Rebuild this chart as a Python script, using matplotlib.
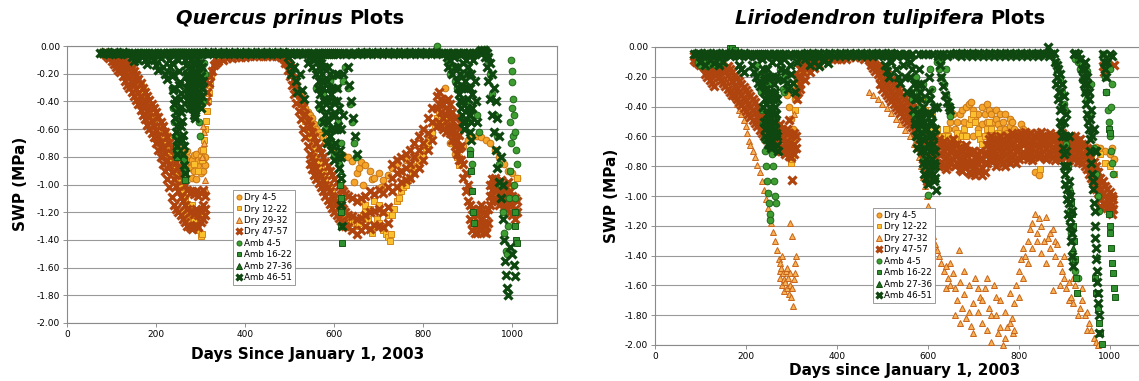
import matplotlib
matplotlib.use("Agg")
import matplotlib.pyplot as plt

# ---------------- DATA (day since Jan 1 2003, SWP in MPa) ----------------
# each tuple: (day, reading, reading, ...)
series_left = ["Dry 4-5", "Dry 12-22", "Dry 29-32", "Dry 47-57",
               "Amb 4-5", "Amb 16-22", "Amb 27-36", "Amb 46-51"]
series_right = ["Dry 4-5", "Dry 12-22", "Dry 27-32", "Dry 47-57",
                "Amb 4-5", "Amb 16-22", "Amb 27-36", "Amb 46-51"]
x_ticks = [0, 200, 400, 600, 800, 1000]
y_ticks = [0.0, -0.2, -0.4, -0.6, -0.8, -1.0, -1.2, -1.4, -1.6, -1.8, -2.0]

# ---- Quercus prinus ----
qp_dry45 = [(140, -.18), (150, -.22), (160, -.28), (170, -.34), (180, -.40), (190, -.47), (200, -.52),
            (210, -.57), (220, -.62), (230, -.67), (240, -.72), (250, -.76), (255, -.80), (260, -.82, -.74),
            (265, -.85, -.78), (270, -.80, -.76), (275, -.88, -.83), (280, -.82, -.95), (285, -.90, -.79),
            (290, -.78, -.96), (295, -.86, -.82), (300, -.92, -.75), (305, -.84, -.90), (310, -.80, -.86),
            (525, -.36), (530, -.40), (535, -.45), (540, -.48), (545, -.50), (550, -.52), (555, -.56),
            (560, -.60), (565, -.62), (570, -.64), (575, -.66), (580, -.70), (590, -.72), (600, -.75),
            (610, -.77), (620, -.79), (630, -.80), (640, -.83), (645, -.98), (650, -.92), (655, -.88),
            (660, -.84), (665, -1.0), (670, -.86), (680, -.90), (685, -.96), (690, -.95), (700, -.92),
            (705, -1.02), (710, -.97), (720, -.93), (730, -.88), (740, -.85), (750, -.90), (760, -.82),
            (770, -.87), (780, -.80), (790, -.78), (800, -.72), (810, -.68), (820, -.62), (830, -.55),
            (840, -.50), (848, -.30), (850, -.60), (860, -.70), (870, -.78), (880, -.80), (890, -.72),
            (900, -.68), (910, -.66), (920, -.65), (930, -.66), (940, -.68), (950, -.70), (960, -.75),
            (970, -.80), (980, -.85), (990, -.90), (1000, -.92), (1010, -.95)]
qp_dry1222 = [(145, -.15), (150, -.18), (155, -.20), (160, -.24), (165, -.28), (170, -.32), (175, -.36),
              (180, -.40), (185, -.45), (190, -.49), (195, -.54), (200, -.58), (205, -.62), (210, -.66),
              (215, -.70), (220, -.73), (225, -.76), (230, -.80), (235, -.84), (240, -.88), (245, -.92),
              (250, -.97), (255, -1.02), (260, -1.06, -1.2), (265, -1.10), (270, -1.14, -1.25), (275, -1.18),
              (280, -1.22, -1.15), (285, -1.26, -.85), (290, -1.30, -1.2), (295, -1.33, -.90),
              (300, -1.37, -1.22, -.80), (302, -1.36), (304, -.82), (306, -.75), (308, -.68), (310, -.60),
              (312, -.54), (314, -.47), (316, -.40), (318, -.34), (320, -.28), (323, -.22), (326, -.18),
              (330, -.14), (335, -.12), (340, -.10), (350, -.09), (360, -.08), (370, -.08), (380, -.07),
              (510, -.25), (515, -.30), (520, -.36), (525, -.42), (530, -.48), (535, -.54), (540, -.60),
              (545, -.65), (550, -.70), (555, -.75), (560, -.80), (565, -.84), (570, -.88), (575, -.92),
              (580, -.96), (585, -1.0), (590, -1.03), (595, -1.06), (600, -1.09), (605, -1.12), (610, -1.15),
              (615, -1.18), (620, -1.20), (625, -1.22), (630, -1.24), (635, -1.25), (640, -1.27),
              (645, -1.28), (650, -1.30), (655, -1.28), (660, -1.25, -1.12), (665, -1.22), (670, -1.20, -1.15),
              (675, -1.25), (680, -1.32, -1.18), (685, -1.35), (690, -1.30, -1.12), (695, -1.25),
              (700, -1.28, -1.15), (705, -1.30), (710, -1.33, -1.20), (715, -1.36), (720, -1.38, -1.22),
              (725, -1.41), (728, -1.36), (730, -1.22), (735, -1.18), (740, -1.12), (745, -1.10),
              (750, -1.05), (755, -1.02), (760, -1.0), (765, -.97), (770, -.95), (775, -.92), (780, -.90),
              (785, -.87), (790, -.85), (795, -.82), (800, -.78), (805, -.74), (810, -.70), (815, -.66),
              (820, -.62), (825, -.57), (830, -.52), (835, -.48), (840, -.50), (845, -.54), (850, -.56),
              (855, -.52), (860, -.58), (865, -.66), (870, -.72), (875, -.80), (880, -.86),
              (995, -.90), (1000, -1.0), (1005, -1.10), (1010, -.95)]
qp_dry2932 = [(302, -.80), (305, -.58), (307, -.62), (308, -.70), (310, -.97), (311, -1.04)]
qp_dry4757 = [(80, -.05), (85, -.05, -.06), (90, -.05, -.07), (95, -.06, -.09), (100, -.06, -.08, -.11),
              (105, -.07, -.10, -.13), (110, -.08, -.12, -.15), (115, -.09, -.13, -.17), (120, -.10, -.15, -.19),
              (125, -.11, -.17, -.22), (130, -.12, -.19, -.25), (135, -.13, -.21, -.28), (140, -.14, -.23, -.30),
              (145, -.16, -.26, -.33), (150, -.18, -.28, -.36), (155, -.21, -.31, -.39), (160, -.24, -.34, -.42),
              (165, -.27, -.37, -.46), (170, -.30, -.41, -.50), (175, -.33, -.44, -.53), (180, -.36, -.47, -.57),
              (185, -.39, -.51, -.60), (190, -.42, -.54, -.63), (195, -.45, -.58, -.66), (200, -.48, -.61, -.70),
              (205, -.51, -.65, -.75), (210, -.55, -.69, -.80), (215, -.58, -.73, -.85), (220, -.62, -.77, -.90),
              (225, -.66, -.82, -.96), (230, -.70, -.86, -1.02), (235, -.74, -.91, -1.09), (240, -.79, -.96, -1.15),
              (245, -.84, -1.01, -1.18), (250, -.88, -1.05, -1.20), (255, -.93, -1.09, -1.22),
              (260, -.97, -1.12, -1.25), (265, -1.0, -1.15, -1.27), (270, -1.04, -1.18, -1.30),
              (275, -1.06, -1.20, -1.31), (280, -1.05, -1.19, -1.32), (285, -1.07, -1.21, -1.30),
              (290, -1.05, -1.18, -1.29), (295, -1.08, -1.22, -1.31), (300, -1.06, -1.19, -1.27),
              (305, -1.04, -1.15, -1.25), (310, -1.08, -1.18, -1.22),
              (312, -.40), (315, -.33), (318, -.27), (321, -.22), (325, -.18), (330, -.14), (335, -.12),
              (340, -.11), (350, -.10), (360, -.09), (370, -.09), (380, -.08), (390, -.08), (400, -.08),
              (410, -.07), (420, -.07), (430, -.07), (440, -.07), (450, -.07), (460, -.07), (470, -.07),
              (480, -.08), (485, -.09), (490, -.10, -.12), (495, -.12, -.17), (500, -.15, -.22),
              (505, -.19, -.28), (510, -.24, -.35), (515, -.29, -.41), (520, -.34, -.47), (525, -.39, -.53),
              (530, -.44, -.60), (535, -.49, -.66), (540, -.54, -.72), (545, -.58, -.78, -.85),
              (550, -.62, -.80, -.89), (555, -.66, -.84, -.93), (560, -.70, -.88, -.96), (565, -.73, -.91, -.99),
              (570, -.77, -.94, -1.02), (575, -.80, -.97, -1.05), (580, -.84, -1.0, -1.08),
              (585, -.87, -1.02, -1.11), (590, -.90, -1.05, -1.14), (595, -.93, -1.08, -1.17),
              (600, -.96, -1.10, -1.20), (605, -.98, -1.12, -1.22), (610, -1.01, -1.14, -1.24),
              (615, -1.03, -1.16, -1.26), (620, -1.05, -1.18, -1.28), (625, -1.07, -1.20, -1.30),
              (630, -1.08, -1.22, -1.31), (640, -1.10, -1.23, -1.33), (650, -1.12, -1.25, -1.36),
              (660, -1.10, -1.24, -1.33), (670, -1.08, -1.22, -1.30), (680, -1.05, -1.20, -1.32),
              (690, -1.07, -1.19, -1.29), (700, -1.04, -1.18, -1.30), (710, -1.06, -1.20, -1.31),
              (720, -1.02, -1.16, -1.28), (730, -.85, -.95, -1.05), (740, -.82, -.92, -1.02),
              (750, -.80, -.90, -.98), (760, -.78, -.88, -.97), (770, -.75, -.85, -.95), (780, -.70, -.80, -.92),
              (790, -.65, -.75, -.88), (800, -.60, -.70, -.82), (810, -.52, -.63, -.75), (820, -.45, -.55, -.68),
              (830, -.36, -.45, -.58), (835, -.33, -.42, -.55), (840, -.38, -.48, -.58), (845, -.42, -.52, -.60),
              (850, -.40, -.50, -.62), (855, -.38, -.46, -.58), (860, -.42, -.52, -.63), (865, -.48, -.58, -.68),
              (870, -.52, -.63, -.72), (875, -.58, -.68, -.78), (880, -.64, -.74, -.82), (885, -.72, -.82),
              (890, -.85, -.95), (895, -.92, -1.05), (900, -1.0, -1.12), (905, -1.15, -1.25),
              (910, -1.18, -1.28, -1.33), (915, -1.20, -1.30, -1.35), (920, -1.22, -1.30, -1.35),
              (925, -1.18, -1.27, -1.33), (930, -1.15, -1.25, -1.32), (935, -1.20, -1.28, -1.34),
              (940, -1.22, -1.30, -1.35), (945, -1.18, -1.28), (950, -1.0, -1.08, -1.15),
              (955, -.96, -1.04, -1.12), (960, -.95, -1.02, -1.10), (965, -.98, -1.05, -1.12),
              (970, -1.0, -1.07, -1.15), (975, -.97, -1.04, -1.12), (980, -1.0, -1.08, -1.16),
              (985, -1.02, -1.10, -1.18), (990, -.98, -1.06, -1.14), (995, -1.05, -1.12, -1.20),
              (1000, -1.08, -1.15, -1.22), (1005, -1.10, -1.18, -1.25), (1010, -1.12, -1.20)]
qp_amb45 = [(236, -.30), (238, -.45), (240, -.55), (242, -.65), (244, -.75), (246, -.80),
            (270, -.30), (275, -.35), (280, -.20), (283, -.40), (285, -.15), (286, -.50), (290, -.30),
            (293, -.45), (295, -.10), (296, -.55), (298, -.65), (300, -.20), (302, -.15), (304, -.30),
            (306, -.40), (308, -.12), (310, -.20),
            (560, -.30), (565, -.45), (570, -.55), (575, -.35), (580, -.60), (585, -.40), (590, -.70, -.25),
            (595, -.50), (600, -.78, -.22), (605, -.30), (608, -.55), (611, -.85), (615, -.70), (620, -.25),
            (625, -.15), (630, -.30), (635, -.42), (640, -.55), (645, -.70), (648, -.80), (830, 0.0),
            (855, -.12), (860, -.20), (865, -.15), (870, -.25), (875, -.30), (880, -.28), (885, -.22),
            (890, -.30), (895, -.40), (900, -.55), (905, -.75), (910, -.85), (920, -.50), (925, -.62),
            (930, -.03), (940, -.02), (945, -.10), (950, -.20), (955, -.35), (960, -.50), (965, -.65),
            (970, -.85), (975, -1.0), (978, -1.20), (982, -1.35), (985, -1.48), (988, -1.50), (990, -1.30),
            (992, -1.10), (994, -.55), (995, -.90), (996, -.70), (997, -.10), (998, -.45), (999, -.18),
            (1000, -.26), (1001, -.65), (1002, -.38), (1003, -1.0), (1004, -.50), (1005, -1.10),
            (1006, -.62), (1007, -1.20), (1008, -.75), (1010, -.85)]
qp_amb1622 = [(244, -.72), (246, -.80), (262, -.82), (264, -.90), (265, -.97), (613, -1.0), (614, -1.10),
              (615, -1.20), (616, -1.30), (617, -1.42), (905, -.78), (907, -.90), (909, -1.05), (911, -1.20),
              (913, -1.28), (1005, -1.30), (1006, -1.20), (1008, -1.40), (1010, -1.42)]
qp_amb2736 = [(100, -.05), (200, -.06), (400, -.05), (615, -.90), (700, -.05)]
qp_amb4651 = [(75, -.05), (80, -.05), (85, -.04), (90, -.05), (95, -.06), (100, -.05), (105, -.04),
              (110, -.05), (115, -.06), (120, -.05), (125, -.04), (130, -.05), (135, -.06), (140, -.05),
              (145, -.05, -.08), (150, -.05, -.11), (155, -.06), (160, -.05, -.10), (165, -.05),
              (170, -.05, -.07), (175, -.05, -.10), (180, -.06, -.13), (185, -.05), (190, -.05, -.08),
              (195, -.05, -.10), (200, -.06, -.14), (205, -.05, -.17), (208, -.06), (212, -.05, -.09),
              (216, -.05, -.15), (220, -.06, -.20), (224, -.05, -.24), (228, -.05, -.10), (232, -.05, -.15),
              (236, -.05, -.12, -.22), (238, -.06, -.20, -.32), (240, -.05, -.30, -.42), (242, -.06, -.38, -.52),
              (244, -.05, -.48, -.62), (246, -.05, -.58, -.72), (247, -.68, -.78), (249, -.05, -.10),
              (251, -.05, -.18, -.28), (253, -.06, -.26, -.38), (255, -.05, -.34, -.48), (257, -.05, -.44, -.58),
              (259, -.06, -.54, -.68), (261, -.05, -.64, -.78), (263, -.72, -.86), (264, -.92),
              (266, -.05, -.10), (268, -.05, -.14, -.22), (269, -.35), (270, -.06, -.20, -.30),
              (271, -.40), (272, -.05, -.26, -.38), (273, -.15), (274, -.05, -.34, -.45), (275, -.25),
              (276, -.06, -.42), (277, -.30), (278, -.05, -.10), (279, -.38), (280, -.05, -.16, -.25),
              (281, -.45), (282, -.06, -.22, -.33), (283, -.12), (284, -.05, -.30, -.42), (285, -.20),
              (286, -.05, -.38, -.50), (287, -.25), (288, -.06, -.46, -.52), (289, -.30), (290, -.05, -.12),
              (291, -.35), (292, -.05, -.20), (293, -.42), (294, -.06, -.28), (295, -.15), (296, -.05, -.36),
              (297, -.25), (298, -.05, -.12), (299, -.40), (300, -.06, -.22), (301, -.45), (302, -.05, -.30),
              (303, -.15), (304, -.06, -.36), (305, -.25), (306, -.05), (310, -.05), (316, -.04),
              (322, -.05), (328, -.06), (334, -.05), (340, -.04), (346, -.05), (352, -.06), (358, -.05),
              (364, -.04), (370, -.05), (376, -.06), (382, -.05), (388, -.04), (394, -.05), (400, -.06),
              (406, -.05), (412, -.04), (418, -.05), (424, -.06), (430, -.05), (436, -.04), (442, -.05),
              (448, -.06), (454, -.05), (460, -.04), (466, -.05), (472, -.06), (478, -.05), (484, -.04),
              (490, -.05), (495, -.05, -.08), (500, -.05, -.14), (503, -.05, -.20), (506, -.06),
              (510, -.05, -.15), (514, -.05, -.25), (517, -.06, -.33), (520, -.05), (524, -.05, -.20),
              (528, -.06, -.32), (531, -.05, -.38), (535, -.05), (540, -.05, -.12), (545, -.06, -.08),
              (550, -.05, -.15), (555, -.05, -.10), (560, -.06, -.20), (563, -.05, -.30), (565, -.15, -.25),
              (566, -.05, -.42), (568, -.10, -.35), (570, -.06, -.12), (572, -.20, -.45), (573, -.05, -.25),
              (575, -.30, -.55), (576, -.05, -.38), (578, -.15, -.40), (579, -.06, -.50), (582, -.05, -.62),
              (583, -.25, -.70), (585, -.05, -.15), (587, -.40, -.55), (588, -.06, -.30), (590, -.20, -.65),
              (591, -.05, -.45), (593, -.35, -.75), (594, -.05, -.60), (596, -.50, -.30), (597, -.06, -.72),
              (599, -.40, -.60), (600, -.05, -.82), (602, -.70, -.50), (603, -.05, -.20), (605, -.30, -.60),
              (606, -.06, -.40), (608, -.80, -.20), (609, -.05, -.58), (611, -.45, -.88), (612, -.05, -.75),
              (614, -.95), (615, -.60, -.80), (616, -1.15), (618, -1.30), (619, -.50, -.20), (622, -.05),
              (626, -.06), (630, -.05, -.15), (634, -.05, -.28), (638, -.06, -.40), (642, -.05, -.52),
              (646, -.05, -.65), (650, -.06, -.78),
              (655, -.05), (661, -.04), (667, -.05), (673, -.06), (679, -.05), (685, -.04), (691, -.05),
              (697, -.06), (703, -.05), (709, -.04), (715, -.05), (721, -.06), (727, -.05), (733, -.04),
              (739, -.05), (745, -.06), (751, -.05), (757, -.04), (763, -.05), (769, -.06), (775, -.05),
              (781, -.04), (787, -.05), (793, -.06), (799, -.05), (805, -.04), (811, -.05), (817, -.06),
              (823, -.05), (829, -.04), (835, -.05), (841, -.06), (847, -.05), (852, -.05, -.08),
              (856, -.05, -.15), (860, -.06, -.10), (864, -.05, -.20), (868, -.05, -.08), (872, -.06, -.15),
              (876, -.05, -.25), (878, -.15, -.30), (880, -.05, -.35), (882, -.20, -.40), (884, -.06, -.45),
              (886, -.30, -.50), (888, -.05, -.55), (890, -.12, -.40), (892, -.05, -.60), (894, -.25, -.55),
              (896, -.06, -.10), (898, -.20, -.45), (899, -.05, -.30), (901, -.15, -.38), (902, -.05, -.50),
              (904, -.30, -.50), (905, -.62), (907, -.20, -.55), (908, -.68), (910, -.35, -.45),
              (912, -.05, -.10), (915, -.06, -.25), (918, -.05, -.40), (921, -.55), (925, -.04),
              (930, -.03), (935, -.03), (938, -.04, -.08), (942, -.05, -.15), (946, -.08, -.25),
              (950, -.12, -.38), (954, -.20, -.50), (958, -.30, -.62), (962, -.40, -.75), (966, -.52, -.88),
              (970, -.65, -.98), (974, -.80, -1.10), (978, -1.0, -1.25), (981, -1.40), (984, -1.55),
              (986, -1.65), (988, -1.75), (990, -1.80), (995, -1.45), (1000, -1.50), (1004, -1.58),
              (1006, -1.66)]

# ---- Liriodendron tulipifera ----
lt_dry45 = [(265, -.55), (270, -.60), (290, -.32), (295, -.40), (300, -.48), (303, -.55), (305, -.60),
            (307, -.35), (310, -.28), (312, -.22), (315, -.18),
            (560, -.30), (570, -.35), (580, -.40), (590, -.45), (600, -.50),
            (640, -.60), (645, -.55), (650, -.50), (655, -.45), (660, -.55), (665, -.50), (670, -.45),
            (675, -.42), (680, -.50), (685, -.40), (690, -.38), (695, -.37), (700, -.42, -.60), (705, -.48),
            (710, -.55, -.45), (715, -.60), (720, -.52, -.40), (725, -.45), (730, -.50, -.38), (735, -.42),
            (740, -.45, -.58), (745, -.50), (750, -.48, -.60, -.42), (755, -.52), (760, -.55, -.62, -.45),
            (765, -.50), (770, -.55, -.45), (775, -.58), (780, -.53, -.48), (785, -.50), (790, -.55, -.62),
            (795, -.60), (800, -.58, -.65), (805, -.52), (810, -.55), (815, -.60), (820, -.62), (825, -.58),
            (830, -.60), (835, -.84), (840, -.62), (845, -.86), (850, -.64), (855, -.60), (860, -.62),
            (870, -.66), (880, -.62), (890, -.65), (900, -.63), (910, -.66), (920, -.68), (930, -.66),
            (940, -.65), (950, -.68), (960, -.70), (970, -.67), (980, -.68), (990, -.70), (1000, -.72),
            (1005, -.68), (1010, -.75)]
lt_dry1222 = [(250, -.45), (260, -.50), (270, -.55), (280, -.60), (290, -.62), (295, -.65), (298, -.72),
              (300, -.78), (302, -.75), (304, -.62), (306, -.58), (308, -.42), (310, -.35), (312, -.32),
              (315, -.25), (320, -.20), (325, -.16), (330, -.14), (335, -.12), (340, -.14), (345, -.12),
              (590, -.35), (595, -.42), (600, -.50), (605, -.55), (610, -.45), (620, -.55), (625, -.60),
              (630, -.65), (635, -.60), (640, -.55), (645, -.60), (650, -.65), (655, -.70), (660, -.62),
              (665, -.58), (670, -.65), (675, -.60), (680, -.55), (685, -.60), (690, -.52), (695, -.48),
              (700, -.45), (705, -.50), (710, -.58), (715, -.62), (720, -.65), (725, -.60), (730, -.55),
              (735, -.50), (740, -.55), (745, -.60), (750, -.62), (755, -.58), (760, -.60), (765, -.65),
              (770, -.62), (775, -.60), (780, -.63), (785, -.65), (790, -.60), (795, -.62), (800, -.66),
              (805, -.63), (810, -.60), (815, -.64), (820, -.68), (830, -.65), (840, -.66), (848, -.82),
              (850, -.62), (860, -.65), (870, -.68), (880, -.62), (890, -.60), (900, -.64), (910, -.62),
              (920, -.66), (930, -.70), (940, -.72), (950, -.70), (960, -.74), (970, -.70), (980, -.72),
              (990, -.78), (1000, -.80), (1010, -.85)]
lt_dry2732 = [(100, -.08), (110, -.12), (120, -.15), (130, -.17), (140, -.20), (150, -.23), (160, -.27),
              (170, -.31), (175, -.34), (180, -.38), (185, -.42), (190, -.45), (195, -.49), (200, -.53),
              (203, -.58), (206, -.63), (210, -.66), (215, -.70), (220, -.74), (225, -.79), (230, -.84),
              (235, -.90), (240, -.96), (244, -1.02), (248, -1.08), (252, -1.13), (256, -1.18), (260, -1.24),
              (264, -1.30), (268, -1.36), (272, -1.42), (274, -1.50), (276, -1.55, -1.45), (278, -1.48),
              (280, -1.60, -1.40), (282, -1.52), (284, -1.64, -1.56), (286, -1.58), (288, -1.50),
              (290, -1.62, -1.48), (292, -1.55), (294, -1.66), (296, -1.18), (298, -1.60, -1.52),
              (300, -1.68), (302, -1.27, -1.62), (303, -1.74), (305, -1.56), (306, -.45), (307, -1.45),
              (309, -1.52), (311, -1.40),
              (470, -.30), (480, -.32), (490, -.35), (500, -.38), (510, -.41), (520, -.44), (530, -.48),
              (540, -.52), (550, -.56), (560, -.60), (570, -.65), (575, -.68), (580, -.74), (585, -.80),
              (590, -.87), (595, -.93), (598, -1.0), (600, -1.07), (604, -1.12), (608, -1.20), (612, -1.27),
              (616, -1.32), (620, -1.36), (625, -1.40), (630, -1.45), (635, -1.50), (640, -1.47, -1.62),
              (645, -1.55), (650, -1.60, -1.45), (655, -1.52), (660, -1.62, -1.80), (665, -1.70),
              (668, -1.36), (670, -1.58, -1.85), (675, -1.75), (680, -1.66, -1.50), (685, -1.82),
              (690, -1.60, -1.78), (695, -1.87), (700, -1.72, -1.92), (705, -1.55), (710, -1.78, -1.62),
              (715, -1.68), (720, -1.85, -1.70), (725, -1.62), (730, -1.90, -1.55), (735, -1.75),
              (740, -1.98, -1.80), (745, -1.60), (750, -1.80, -1.68), (755, -1.92), (760, -1.70, -1.88),
              (765, -2.0), (770, -1.78, -1.95), (775, -1.88), (780, -1.65, -1.85), (785, -1.82),
              (788, -1.92), (790, -1.72, -1.90), (795, -1.60), (800, -1.50, -1.68), (805, -1.42),
              (810, -1.35, -1.55), (815, -1.40), (820, -1.30, -1.45), (825, -1.22), (830, -1.18, -1.35),
              (835, -1.12), (840, -1.25, -1.30), (845, -1.15), (850, -1.20, -1.38), (855, -1.30),
              (860, -1.14, -1.45), (865, -1.28), (870, -1.35, -1.25), (875, -1.22), (876, -1.63),
              (880, -1.40, -1.30), (885, -1.32), (890, -1.45, -1.60), (895, -1.50), (900, -1.55, -1.40),
              (905, -1.62), (910, -1.58, -1.70), (915, -1.68), (920, -1.72, -1.55), (925, -1.60),
              (930, -1.65, -1.80), (935, -1.75), (940, -1.70, -1.62), (945, -1.80), (950, -1.78, -1.90),
              (955, -1.85), (960, -1.90), (965, -1.95), (970, -1.98), (975, -2.0)]
lt_dry4757 = [(85, -.06, -.09), (90, -.07, -.10), (95, -.08, -.11), (100, -.08, -.12), (105, -.09, -.13),
              (110, -.10, -.14, -.18), (115, -.10, -.15, -.20), (120, -.11, -.16, -.22), (125, -.12, -.17, -.24),
              (130, -.12, -.18, -.26), (135, -.13, -.19), (140, -.14, -.20), (145, -.15, -.22),
              (150, -.16, -.24), (155, -.17, -.26), (160, -.13, -.19, -.28), (165, -.15, -.21, -.30),
              (170, -.17, -.23, -.32), (175, -.19, -.26, -.33), (180, -.21, -.28, -.35), (185, -.23, -.30, -.37),
              (190, -.25, -.32, -.39), (195, -.27, -.34, -.41), (200, -.29, -.36, -.43), (205, -.31, -.38, -.45),
              (210, -.33, -.40, -.47), (215, -.35, -.42, -.49), (220, -.37, -.44, -.51), (225, -.40, -.47, -.53),
              (230, -.43, -.50, -.56), (235, -.46, -.52, -.58), (240, -.49, -.55, -.60), (245, -.52, -.57, -.62),
              (250, -.54, -.59, -.64), (255, -.55, -.60, -.66), (260, -.56, -.62, -.68), (265, -.55, -.63, -.70),
              (270, -.56, -.64), (275, -.52, -.60, -.68), (280, -.55, -.62, -.70), (285, -.57, -.65, -.72),
              (290, -.55, -.63, -.70), (294, -.49), (295, -.58, -.66, -.73), (300, -.60, -.67, -.74),
              (302, -.89), (305, -.58, -.65, -.72), (310, -.60, -.68),
              (312, -.35), (315, -.30, -.20), (318, -.25), (320, -.15, -.28), (321, -.20), (325, -.17, -.12),
              (330, -.14, -.10, -.22), (335, -.12), (340, -.11, -.17), (345, -.10), (350, -.10, -.14),
              (360, -.09, -.12), (370, -.09), (380, -.08), (390, -.08), (400, -.08), (410, -.08), (420, -.08),
              (430, -.07), (440, -.07), (450, -.07), (460, -.08), (470, -.09), (475, -.10, -.12),
              (480, -.11, -.14), (485, -.12, -.16), (490, -.13, -.18), (495, -.14, -.20, -.25),
              (500, -.15, -.22, -.28), (505, -.16, -.24, -.30), (510, -.18, -.26, -.32), (515, -.20, -.28, -.34),
              (520, -.22, -.30, -.36), (525, -.24, -.32, -.38), (530, -.26, -.34, -.40), (535, -.28, -.36, -.42),
              (540, -.30, -.38, -.44), (545, -.32, -.40, -.46), (550, -.34, -.42, -.48), (555, -.36, -.44, -.50),
              (560, -.38, -.46, -.52), (565, -.40, -.48, -.54), (570, -.42, -.50, -.56), (575, -.44, -.52, -.58),
              (580, -.47, -.55, -.62), (585, -.50, -.60, -.68), (590, -.55, -.65, -.75), (595, -.60, -.72, -.85),
              (598, -.80, -.90), (600, -.62, -.70), (605, -.60, -.68, -.75), (610, -.62, -.70, -.77),
              (615, -.60, -.68, -.74), (620, -.63, -.70, -.78), (625, -.62, -.72, -.80), (630, -.65, -.72, -.78),
              (635, -.63, -.70, -.80), (640, -.66, -.74, -.82), (645, -.68, -.76, -.80), (650, -.64, -.70, -.78),
              (655, -.62, -.68, -.75), (660, -.66, -.73, -.80), (665, -.65, -.72, -.78), (670, -.68, -.75, -.82),
              (675, -.70, -.77, -.83), (680, -.68, -.74, -.80), (685, -.66, -.72, -.78), (690, -.70, -.78, -.84),
              (695, -.72, -.79, -.85), (700, -.70, -.77, -.82), (705, -.74, -.80, -.86), (710, -.72, -.78, -.84),
              (715, -.70, -.76, -.83), (720, -.75, -.81, -.86), (725, -.72, -.78, -.84), (730, -.66, -.72, -.78),
              (735, -.62, -.68, -.75), (740, -.60, -.66, -.72), (745, -.63, -.70, -.76), (750, -.65, -.72, -.80),
              (755, -.62, -.68, -.75), (760, -.60, -.66, -.74), (765, -.62, -.70, -.78), (770, -.64, -.72, -.80),
              (775, -.60, -.68, -.76), (780, -.62, -.70, -.78), (785, -.58, -.66, -.74), (790, -.60, -.68, -.76),
              (795, -.62, -.70, -.78), (800, -.60, -.68, -.75), (805, -.58, -.64, -.72), (810, -.60, -.66, -.74),
              (815, -.57, -.64, -.72), (820, -.60, -.67, -.75), (825, -.58, -.65, -.72), (830, -.62, -.68, -.76),
              (835, -.60, -.66, -.73), (840, -.58, -.65, -.72), (845, -.60, -.67, -.74), (850, -.57, -.64, -.72),
              (855, -.60, -.66, -.74), (860, -.62, -.68, -.75), (865, -.60, -.66, -.73), (870, -.58, -.65, -.72),
              (875, -.60, -.67, -.74), (880, -.62, -.69, -.76), (885, -.60, -.66, -.73), (890, -.62, -.68, -.75),
              (895, -.58, -.64, -.72), (900, -.60, -.66, -.73), (905, -.62, -.68, -.74), (910, -.64, -.70, -.76),
              (915, -.60, -.66, -.72), (920, -.62, -.68, -.75), (925, -.60, -.67, -.74), (930, -.63, -.70, -.77),
              (935, -.62, -.69, -.76), (940, -.65, -.72, -.78), (945, -.66, -.73, -.80), (950, -.68, -.75, -.82),
              (955, -.70, -.78, -.85), (960, -.74, -.80, -.88), (965, -.77, -.84, -.92), (970, -.80, -.88, -.95),
              (975, -.84, -.92, -.98), (980, -.88, -.95, -1.02, -1.07), (985, -.90, -.98, -1.05, -.13),
              (988, -.17), (990, -.93, -1.0, -1.06, -.15), (995, -.95, -1.02, -1.08), (1000, -.97, -1.04, -1.10),
              (1005, -1.0, -1.06, -1.12), (1008, -1.02, -1.09), (1010, -.12)]
lt_amb45 = [(95, -.10), (100, -.12), (105, -.09), (115, -.13), (125, -.10), (135, -.12), (145, -.11),
            (225, -.12), (230, -.18), (233, -.30), (236, -.42), (238, -.52), (240, -.62), (242, -.70),
            (244, -.80), (246, -.90), (248, -.98, -.25), (250, -1.05), (252, -1.12, -.35), (254, -1.16),
            (256, -.62, -.45), (258, -.72), (260, -.80), (262, -.90), (264, -1.0), (266, -1.05),
            (275, -.15), (278, -.22), (281, -.28), (284, -.30), (287, -.20), (290, -.26),
            (555, -.20), (560, -.30), (565, -.35), (570, -.45), (575, -.50, -.20), (580, -.55, -.30),
            (585, -.60, -.40), (590, -.68, -.25), (595, -.75, -.50), (598, -.85), (600, -.99, -.35),
            (605, -.15), (610, -.28), (615, -.40), (620, -.10), (625, -.15), (630, -.20, -.10),
            (635, -.25), (640, -.32, -.15), (645, -.38), (650, -.46),
            (880, -.10), (885, -.15), (890, -.22), (895, -.30), (900, -.38), (903, -.42), (905, -.65),
            (908, -.80), (910, -.95), (912, -1.10), (915, -1.25), (918, -1.38), (920, -1.43),
            (925, -.08, -1.50), (930, -.10, -1.55), (935, -.15), (940, -.22, -.12), (945, -.30),
            (950, -.35, -.16), (955, -.45), (960, -.55, -.25), (965, -.68), (970, -.85), (974, -1.0),
            (976, -1.10), (985, -.05), (988, -.12), (990, -.20), (993, -.30), (995, -.10), (996, -.42),
            (999, -.50), (1000, -.15), (1002, -.60), (1003, -.40), (1004, -.70), (1005, -.25),
            (1006, -.78), (1008, -.85)]
lt_amb1622 = [(165, -.01), (170, -.01), (175, -.02), (912, -.98), (915, -1.05), (918, -1.12), (920, -1.20),
              (922, -1.30), (924, -1.42), (926, -1.55), (928, -1.65), (968, -1.55), (971, -1.65),
              (974, -1.75), (977, -1.85), (980, -1.92), (983, -1.99), (992, -.30), (998, -1.12, -.55),
              (1000, -1.20, -.58), (1002, -1.25), (1004, -1.35), (1006, -1.45), (1008, -1.52),
              (1010, -1.62), (1012, -1.68)]
lt_amb2736 = [(920, -1.35), (972, -1.40), (300, -.05), (700, -.05)]
lt_amb4651 = [(85, -.05), (90, -.05), (95, -.04), (100, -.05, -.10), (105, -.06), (110, -.05, -.12),
              (115, -.04), (120, -.05, -.09), (125, -.06), (130, -.05, -.11), (135, -.04), (140, -.05, -.12),
              (145, -.06), (150, -.05, -.10), (155, -.04), (160, -.05), (165, -.06), (170, -.05),
              (175, -.04), (180, -.05), (185, -.06, -.12), (190, -.05, -.15), (195, -.04, -.17),
              (200, -.05), (205, -.06), (210, -.05), (213, -.12), (218, -.05, -.17), (222, -.06, -.20),
              (226, -.05, -.24), (230, -.05, -.26), (234, -.06), (236, -.05, -.08), (237, -.25, -.40),
              (238, -.15), (239, -.30, -.50), (240, -.05, -.22), (241, -.35, -.55), (242, -.30),
              (243, -.20, -.60), (244, -.06, -.38), (245, -.28, -.50), (246, -.45), (247, -.15, -.62),
              (248, -.05, -.52), (249, -.35, -.65), (250, -.58), (251, -.20, -.45), (252, -.05, -.62),
              (253, -.40, -.55), (254, -.66), (255, -.30, -.60), (256, -.06, -.68), (257, -.45, -.20),
              (258, -.10), (259, -.50, -.35), (260, -.05, -.20), (261, -.25, -.60), (262, -.32),
              (263, -.40, -.55), (264, -.05, -.45), (265, -.30, -.50), (266, -.58), (267, -.20, -.45),
              (268, -.06, -.66), (269, -.35, -.60), (270, -.70), (272, -.05), (275, -.05, -.10),
              (278, -.06, -.15), (281, -.05, -.22), (284, -.08), (287, -.05, -.16), (290, -.24),
              (293, -.06, -.28), (296, -.12), (300, -.05, -.18), (304, -.24), (308, -.05, -.30),
              (312, -.10), (316, -.05), (322, -.06), (328, -.05), (330, -.08), (334, -.04), (340, -.05, -.12),
              (346, -.06), (350, -.10), (352, -.05), (358, -.04), (360, -.13), (364, -.05), (370, -.06, -.09),
              (376, -.05), (380, -.11), (382, -.04), (388, -.05), (394, -.06), (400, -.05), (406, -.04),
              (412, -.05), (418, -.06), (424, -.05), (430, -.04), (436, -.05), (442, -.06), (448, -.05),
              (454, -.04), (460, -.05), (466, -.06), (472, -.05), (478, -.04), (484, -.05), (490, -.06),
              (496, -.05), (500, -.04), (505, -.05, -.12), (510, -.06, -.16), (515, -.05, -.20),
              (520, -.04, -.10), (525, -.05), (530, -.06, -.15), (535, -.05, -.20), (540, -.05, -.24),
              (545, -.06, -.12), (550, -.05, -.20), (555, -.05, -.30), (560, -.06, -.10), (562, -.20),
              (565, -.05, -.30, -.15), (568, -.42), (570, -.25), (571, -.52), (572, -.35, -.50), (574, -.60),
              (575, -.35), (576, -.45, -.60), (577, -.68), (579, -.55, -.25), (580, -.05, -.15, -.45),
              (582, -.30), (583, -.50, -.65), (585, -.45, -.25), (586, -.70, -.35), (588, -.58),
              (589, -.62, -.78), (590, -.05, -.40), (591, -.70), (592, -.50, -.85), (594, -.80), (595, -.55),
              (596, -.75, -.45), (597, -.88), (599, -.78, -.55), (600, -.05, -.92, -.65), (602, -.85, -.30),
              (603, -.20), (604, -.60, -.70), (605, -.50), (606, -.35), (607, -.80, -.45), (609, -.50),
              (610, -.05, -.75), (611, -.85, -.60), (612, -.65), (613, -.90, -.40), (614, -.78), (615, -.55),
              (616, -.88), (617, -.70, -.80), (618, -.96), (620, -.40), (622, -.06), (626, -.05, -.12),
              (630, -.20), (634, -.05, -.26), (638, -.32), (642, -.06, -.37), (646, -.40), (650, -.05, -.42),
              (656, -.05), (662, -.04), (668, -.05), (674, -.06), (680, -.05), (686, -.04), (692, -.05),
              (698, -.06), (704, -.05), (710, -.04), (716, -.05), (722, -.06), (728, -.05), (734, -.04),
              (740, -.05), (746, -.06), (752, -.05), (758, -.04), (764, -.05), (770, -.06), (776, -.05),
              (782, -.04), (788, -.05), (794, -.06), (800, -.05), (806, -.04), (812, -.05), (818, -.06),
              (824, -.05), (830, -.04), (836, -.05), (842, -.06), (848, -.05), (854, -.04), (860, -.05),
              (864, 0.0), (866, -.06), (872, -.05), (878, -.04), (880, -.10), (883, -.25), (885, -.20, -.12),
              (887, -.35, -.15), (888, -.30), (890, -.18), (891, -.42), (892, -.50, -.30), (894, -.55),
              (895, -.25), (896, -.60, -.40), (897, -.68), (899, -.72, -.50), (900, -.80, -.33),
              (902, -.85, -.60), (903, -.92), (904, -.70), (905, -.45), (906, -1.02), (907, -.95, -.80),
              (909, -1.12), (910, -.60), (911, -1.05, -.90), (912, -1.20), (914, -1.15, -1.0), (915, -1.30),
              (917, -1.25, -1.10), (918, -1.40), (920, -1.47), (922, -.05), (925, -.04), (930, -.05),
              (936, -.08), (940, -.15), (942, -.20), (944, -.25), (945, -.10), (946, -.30, -.15), (948, -.38),
              (950, -.20, -.45, -.25), (952, -.50), (954, -.55, -.35), (955, -.30), (956, -.62),
              (958, -.70, -.48), (960, -.78, -.42), (962, -.85, -.60), (963, -.90), (964, -.95), (965, -.55),
              (966, -1.05), (967, -1.10, -.70), (968, -1.20), (969, -1.28), (970, -1.35, -.70), (971, -1.42),
              (972, -1.50), (973, -1.58), (974, -1.65), (975, -1.72), (976, -1.80), (977, -1.92), (985, -.05),
              (988, -.10), (990, -.15), (992, -.20), (995, -.10), (1000, -.05), (1005, -.06)]

# ---------------- STYLE ----------------
styles = [
    dict(marker="o", mfc="#F4A52A", mec="#C77414", ms=4.8, mew=0.7),
    dict(marker="s", mfc="#FBC02D", mec="#D6861A", ms=4.4, mew=0.7),
    dict(marker="^", mfc="#F7B256", mec="#C8651A", ms=5.0, mew=0.7),
    dict(marker="x", color="#B0440E", mec="#B0440E", ms=5.4, mew=2.3),
    dict(marker="o", mfc="#3E9E32", mec="#1F661A", ms=4.8, mew=0.7),
    dict(marker="s", mfc="#309030", mec="#185A14", ms=4.4, mew=0.7),
    dict(marker="^", mfc="#1E6E1E", mec="#0E4A0E", ms=5.0, mew=0.7),
    dict(marker="x", color="#0F4710", mec="#0F4710", ms=5.4, mew=2.3),
]

W, H = 1139, 381


def unpack(rows):
    xs, ys = [], []
    for r in rows:
        for v in r[1:]:
            xs.append(r[0])
            ys.append(v)
    return xs, ys


def rect(l, t, r, b):
    return [l / W, 1 - b / H, (r - l) / W, (b - t) / H]


fig = plt.figure(figsize=(W / 100, H / 100), dpi=100)
fig.patch.set_facecolor("white")

ax1 = fig.add_axes(rect(67, 46, 557, 323))
ax2 = fig.add_axes(rect(655, 47, 1155, 345))

left_data = [qp_dry45, qp_dry1222, qp_dry2932, qp_dry4757, qp_amb45, qp_amb1622, qp_amb2736, qp_amb4651]
right_data = [lt_dry45, lt_dry1222, lt_dry2732, lt_dry4757, lt_amb45, lt_amb1622, lt_amb2736, lt_amb4651]

for ax, datasets, names, leg_anchor in [
        (ax1, left_data, series_left, (0.339, 0.48)),
        (ax2, right_data, series_right, (0.436, 0.46))]:
    handles = []
    for rows, name, st in zip(datasets, names, styles):
        xs, ys = unpack(rows)
        ln, = ax.plot(xs, ys, linestyle="none", label=name, clip_on=False, zorder=3, **st)
        handles.append(ln)
    ax.set_xlim(0, 1100)
    ax.set_ylim(-2.0, 0.0)
    ax.set_xticks(x_ticks)
    ax.set_yticks(y_ticks)
    ax.set_yticklabels(["%.2f" % v for v in y_ticks])
    ax.tick_params(axis="both", labelsize=6.5, length=3, width=0.6, color="#808080", pad=2)
    ax.grid(axis="y", color="#9A9A9A", linewidth=0.8)
    ax.set_axisbelow(True)
    for s in ax.spines.values():
        s.set_color("#8A8A8A")
        s.set_linewidth(0.8)
    leg = ax.legend(handles=handles, loc="upper left", bbox_to_anchor=leg_anchor,
                    fontsize=6.3, handlelength=0.6, handletextpad=0.3, labelspacing=0.28,
                    borderpad=0.35, frameon=True, fancybox=False, framealpha=1,
                    edgecolor="#8A8A8A", markerscale=0.75, borderaxespad=0)
    leg.get_frame().set_linewidth(0.6)
    leg.set_zorder(10)

# axis labels
fig.text(21 / W, 1 - 184 / H, "SWP (MPa)", rotation=90, ha="center", va="center",
         fontsize=11, fontweight="bold")
fig.text(612 / W, 1 - 196 / H, "SWP (MPa)", rotation=90, ha="center", va="center",
         fontsize=11, fontweight="bold")
fig.text(308 / W, 1 - 354 / H, "Days Since January 1, 2003", ha="center", va="center",
         fontsize=11, fontweight="bold")
fig.text(905 / W, 1 - 370 / H, "Days since January 1, 2003", ha="center", va="center",
         fontsize=11, fontweight="bold")

# titles (italic species name + "Plots")
fig.canvas.draw()
renderer = fig.canvas.get_renderer()
for species, cx, cy in [("Quercus prinus", 290, 18), ("Liriodendron tulipifera", 890, 18)]:
    t1 = fig.text(0, 1 - cy / H, species + " ", fontsize=14, fontweight="bold", style="italic",
                  ha="left", va="center")
    t2 = fig.text(0, 1 - cy / H, "Plots", fontsize=14, fontweight="bold", ha="left", va="center")
    w1 = t1.get_window_extent(renderer).width
    w2 = t2.get_window_extent(renderer).width
    x0 = cx - (w1 + w2) / 2
    t1.set_x(x0 / W)
    t2.set_x((x0 + w1) / W)

fig.savefig("out.png", dpi=100)
